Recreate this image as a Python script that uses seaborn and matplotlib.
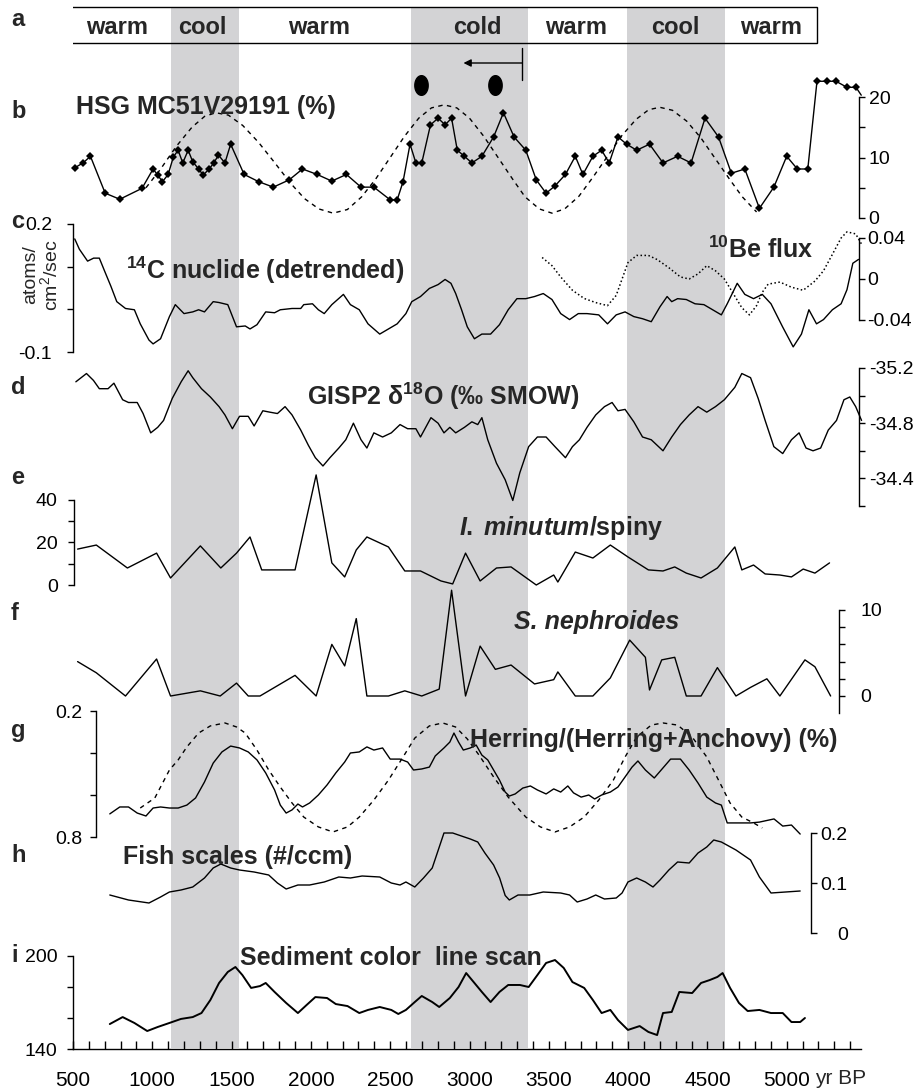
import numpy as np
import matplotlib
matplotlib.use("Agg")
import matplotlib.pyplot as plt
import seaborn as sns

sns.set_theme(style="white")
plt.rcParams["font.family"] = ["Liberation Sans", "DejaVu Sans"]
plt.rcParams["mathtext.fontset"] = "custom"
plt.rcParams["mathtext.rm"] = "Liberation Sans:bold"
plt.rcParams["mathtext.bf"] = "Liberation Sans:bold"
plt.rcParams["mathtext.it"] = "Liberation Sans:bold:italic"

# ---------------- data ----------------
# climate periods (panel a)
period_labels = ["warm", "cool", "warm", "cold", "warm", "cool", "warm"]
period_centers = [777, 1313, 2051, 3047, 3671, 4296, 4901]
cool_bands = [(1118, 1548), (2632, 3370), (3990, 4608)]

# b: HSG MC51V29191 (%)
hsg_years = [511, 563, 610, 703, 795, 935, 1005, 1034, 1064, 1100, 1133, 1163, 1192, 1226, 1255, 1292,
             1321, 1358, 1388, 1417, 1458, 1494, 1579, 1671, 1763, 1863, 1947, 2039, 2132, 2224, 2316,
             2397, 2500, 2544, 2581, 2625, 2662, 2699, 2754, 2802, 2846, 2887, 2923, 2968, 3015, 3078,
             3152, 3214, 3281, 3355, 3421, 3483, 3539, 3605, 3667, 3715, 3778, 3833, 3881, 3936, 3991,
             4054, 4135, 4220, 4312, 4397, 4485, 4570, 4651, 4736, 4828, 4919, 5000, 5067, 5133, 5191,
             5254, 5311, 5380, 5437]
hsg_pct = [8.3, 9.1, 10.2, 4.1, 3.1, 4.9, 8.1, 7.1, 6.0, 7.2, 10.1, 11.2, 9.1, 11.2, 9.3, 8.1,
           7.1, 8.1, 9.1, 10.4, 9.1, 12.2, 7.2, 6.0, 5.1, 6.3, 8.1, 7.2, 6.1, 7.2, 5.1,
           5.1, 3.0, 3.0, 6.0, 12.2, 9.1, 9.1, 15.4, 16.5, 15.4, 16.5, 11.2, 10.2, 9.1, 10.2,
           13.4, 17.4, 13.4, 11.2, 6.3, 4.1, 5.3, 7.2, 10.2, 7.2, 10.2, 11.2, 9.1, 13.4, 12.2,
           11.2, 12.2, 9.1, 10.2, 9.1, 16.5, 13.4, 7.4, 8.1, 1.6, 5.1, 10.2, 8.1, 8.1, 22.6,
           22.6, 22.6, 21.6, 21.6]
hsg_tail_years = [5437, 5470]
hsg_tail = [21.6, 20.3]
hsg_cycle_years = [960, 1050, 1150, 1250, 1330, 1400, 1480, 1570, 1670, 1770, 1870, 1960, 2050, 2140,
                   2230, 2320, 2410, 2500, 2590, 2680, 2760, 2840, 2920, 3000, 3090, 3180, 3270, 3350,
                   3440, 3520, 3600, 3690, 3780, 3870, 3960, 4050, 4130, 4200, 4280, 4370, 4460, 4550,
                   4640, 4720, 4810]
hsg_cycle = [5.0, 8.0, 11.8, 15.0, 16.8, 17.4, 17.0, 15.3, 12.5, 9.2, 5.8, 3.2, 1.5, 0.8,
             1.4, 3.5, 6.5, 10.0, 13.5, 16.5, 18.2, 18.7, 18.2, 16.5, 13.5, 10.0, 6.5, 3.5,
             1.5, 0.8, 1.5, 3.6, 6.8, 10.2, 13.6, 16.3, 17.9, 18.3, 17.8, 16.0, 13.2, 9.8,
             6.4, 3.5, 1.0]
event_years = [2694, 3160]

# c: 14C production (detrended) and 10Be flux
c14_years = [511, 540, 592, 630, 666, 700, 739, 776, 831, 887, 924, 979, 1005, 1052, 1108, 1145, 1200,
             1255, 1292, 1329, 1384, 1420, 1476, 1531, 1586, 1616, 1660, 1715, 1771, 1807, 1881, 1936,
             1955, 2010, 2047, 2084, 2132, 2205, 2249, 2305, 2360, 2434, 2489, 2544, 2599, 2636, 2691,
             2747, 2802, 2846, 2883, 2913, 2950, 2986, 3031, 3078, 3133, 3189, 3244, 3299, 3355, 3410,
             3465, 3520, 3575, 3631, 3686, 3741, 3815, 3870, 3925, 3981, 4036, 4091, 4146, 4201, 4246,
             4275, 4312, 4367, 4422, 4478, 4533, 4588, 4625, 4688, 4736, 4791, 4846, 4901, 4974, 5041,
             5093, 5140, 5188, 5232, 5288, 5343, 5380, 5417, 5453]
c14_flux = [0.165, 0.141, 0.113, 0.120, 0.120, 0.089, 0.054, 0.018, 0.002, -0.001, -0.034, -0.072,
            -0.081, -0.069, -0.017, 0.011, -0.010, -0.006, -0.001, -0.006, 0.018, 0.016, 0.011,
            -0.041, -0.039, -0.046, -0.036, -0.006, -0.008, -0.001, 0.002, 0.002, 0.011, 0.013,
            -0.001, -0.010, 0.011, 0.035, 0.011, -0.001, -0.034, -0.058, -0.046, -0.034, -0.010,
            0.018, 0.030, 0.049, 0.058, 0.070, 0.061, 0.037, -0.001, -0.041, -0.069, -0.058, -0.058,
            -0.036, -0.001, 0.025, 0.025, 0.030, 0.037, 0.023, -0.010, -0.024, -0.010, -0.010,
            -0.013, -0.034, -0.013, -0.006, -0.017, -0.022, -0.029, 0.006, 0.030, 0.018, 0.025,
            0.023, 0.013, 0.011, -0.001, -0.013, 0.013, 0.061, 0.035, 0.025, 0.035, 0.013, -0.041,
            -0.088, -0.058, -0.001, -0.034, -0.024, -0.001, 0.013, 0.046, 0.108, 0.117]
be10_years = [3458, 3520, 3575, 3649, 3723, 3796, 3870, 3925, 3962, 3999, 4054, 4128, 4183, 4257, 4330,
              4385, 4441, 4496, 4551, 4607, 4662, 4717, 4765, 4810, 4846, 4883, 4957, 5030, 5104, 5178,
              5232, 5288, 5343, 5380, 5435, 5472]
be10_flux = [0.021, 0.013, 0.002, -0.011, -0.019, -0.023, -0.026, -0.016, 0.000, 0.016, 0.023, 0.023,
             0.019, 0.011, 0.002, 0.000, 0.005, 0.013, 0.008, 0.000, -0.014, -0.028, -0.035, -0.026,
             -0.013, -0.005, -0.003, -0.008, -0.011, -0.002, 0.008, 0.024, 0.040, 0.046, 0.044, 0.034]

# d: GISP2 d18O
d18o_years = [518, 585, 629, 666, 721, 758, 813, 850, 905, 942, 990, 1034, 1071, 1126, 1182, 1226, 1255,
              1310, 1366, 1421, 1458, 1505, 1550, 1605, 1642, 1697, 1741, 1789, 1837, 1881, 1936, 1984,
              2028, 2076, 2120, 2176, 2220, 2268, 2316, 2353, 2397, 2452, 2507, 2562, 2610, 2662, 2691,
              2757, 2802, 2839, 2876, 2913, 2968, 3015, 3052, 3078, 3115, 3170, 3225, 3273, 3317, 3373,
              3428, 3483, 3539, 3605, 3649, 3693, 3741, 3796, 3851, 3899, 3936, 3981, 4036, 4091, 4146,
              4183, 4220, 4275, 4330, 4385, 4441, 4496, 4551, 4607, 4673, 4717, 4772, 4820, 4864, 4919,
              4975, 5030, 5078, 5122, 5166, 5214, 5262, 5314, 5361, 5398, 5435, 5472]
d18o = [-35.10, -35.16, -35.11, -35.05, -35.05, -35.09, -34.97, -34.95, -34.95, -34.87, -34.73, -34.77,
        -34.82, -34.98, -35.10, -35.18, -35.13, -35.05, -34.99, -34.92, -34.86, -34.76, -34.85, -34.85,
        -34.78, -34.89, -34.88, -34.87, -34.92, -34.86, -34.75, -34.64, -34.55, -34.49, -34.55, -34.62,
        -34.68, -34.80, -34.68, -34.62, -34.73, -34.70, -34.73, -34.79, -34.76, -34.76, -34.70, -34.84,
        -34.80, -34.73, -34.77, -34.73, -34.77, -34.81, -34.79, -34.84, -34.68, -34.51, -34.39, -34.24,
        -34.44, -34.63, -34.70, -34.70, -34.63, -34.55, -34.63, -34.68, -34.77, -34.86, -34.92, -34.95,
        -34.89, -34.90, -34.81, -34.70, -34.68, -34.64, -34.60, -34.70, -34.79, -34.86, -34.92, -34.88,
        -34.92, -34.97, -35.06, -35.16, -35.13, -34.98, -34.82, -34.63, -34.58, -34.68, -34.73, -34.62,
        -34.60, -34.62, -34.75, -34.82, -34.97, -34.99, -34.92, -34.82]

# e: I. minutum / spiny
imin_years = [529, 647, 843, 1027, 1115, 1303, 1432, 1531, 1616, 1690, 1900, 2033, 2132, 2213, 2286, 2353,
              2489, 2592, 2691, 2820, 2894, 2975, 3067, 3170, 3262, 3421, 3531, 3557, 3667, 3778, 3888,
              3999, 4128, 4220, 4294, 4367, 4460, 4563, 4673, 4717, 4791, 4864, 4957, 5030, 5104, 5178,
              5270]
imin_ratio = [16.9, 18.8, 8.0, 15.0, 3.3, 18.4, 8.0, 15.0, 22.6, 7.1, 7.1, 51.8, 10.4, 3.8, 16.5, 22.6,
              17.9, 6.6, 6.6, 1.9, 0.5, 15.0, 1.9, 8.0, 8.5, 0.0, 4.7, 1.4, 15.5, 12.7, 18.8,
              13.2, 7.1, 6.6, 8.5, 5.6, 3.3, 8.0, 17.9, 7.1, 9.4, 5.2, 4.7, 3.8, 7.5, 5.6, 10.4]

# f: S. nephroides
snep_years = [529, 647, 831, 1027, 1115, 1303, 1428, 1531, 1605, 1679, 1900, 2033, 2132, 2213, 2286,
              2353, 2489, 2592, 2699, 2809, 2887, 2975, 3067, 3163, 3262, 3410, 3531, 3557, 3667, 3778,
              3888, 4010, 4109, 4135, 4212, 4294, 4367, 4460, 4563, 4680, 4772, 4875, 4957, 5115, 5178,
              5277]
snep = [4.0, 2.7, 0.0, 4.3, 0.0, 0.6, 0.0, 1.5, 0.0, 0.0, 2.4, 0.0, 6.0, 3.5, 9.0,
        0.0, 0.0, 0.6, 0.0, 0.8, 12.3, 0.0, 5.8, 3.1, 3.6, 1.4, 1.9, 2.8, 0.0, 0.0,
        2.1, 6.5, 4.5, 0.7, 4.2, 4.5, 0.0, 0.0, 3.3, 0.0, 1.0, 2.0, 0.0, 4.2, 3.4, 0.0]

# g: Herring/(Herring+Anchovy)
herring_years = [732, 795, 850, 905, 960, 1005, 1052, 1108, 1163, 1218, 1273, 1329, 1384, 1439, 1494,
                 1550, 1605, 1660, 1715, 1771, 1807, 1844, 1881, 1918, 1947, 1992, 2047, 2102, 2157,
                 2213, 2249, 2305, 2353, 2397, 2452, 2500, 2562, 2610, 2647, 2699, 2747, 2784, 2839,
                 2876, 2902, 2931, 2961, 3005, 3042, 3078, 3115, 3152, 3189, 3225, 3251, 3288, 3336,
                 3384, 3428, 3483, 3531, 3575, 3620, 3656, 3704, 3752, 3789, 3833, 3888, 3936, 3981,
                 4025, 4062, 4109, 4165, 4220, 4268, 4330, 4385, 4441, 4496, 4551, 4588, 4625, 4680,
                 4772, 4828, 4920, 4975, 5030, 5085]
herring = [0.690, 0.657, 0.657, 0.686, 0.700, 0.662, 0.657, 0.662, 0.662, 0.648, 0.614, 0.538, 0.448,
           0.395, 0.367, 0.376, 0.395, 0.433, 0.495, 0.576, 0.648, 0.686, 0.671, 0.643, 0.657, 0.638,
           0.600, 0.552, 0.495, 0.443, 0.400, 0.395, 0.371, 0.386, 0.376, 0.429, 0.429, 0.443, 0.481,
           0.476, 0.467, 0.414, 0.376, 0.348, 0.305, 0.348, 0.386, 0.376, 0.362, 0.410, 0.433, 0.481,
           0.529, 0.586, 0.605, 0.595, 0.567, 0.557, 0.576, 0.595, 0.571, 0.586, 0.557, 0.590, 0.610,
           0.600, 0.619, 0.600, 0.586, 0.562, 0.514, 0.467, 0.438, 0.481, 0.519, 0.471, 0.429, 0.429,
           0.481, 0.543, 0.610, 0.638, 0.648, 0.733, 0.733, 0.733, 0.729, 0.714, 0.748, 0.743, 0.786]
herring_cycle_years = [924, 1016, 1108, 1163, 1218, 1292, 1366, 1458, 1531, 1586, 1660, 1734, 1807,
                       1881, 1955, 2047, 2139, 2231, 2305, 2397, 2489, 2581, 2655, 2747, 2831, 2912,
                       2986, 3060, 3152, 3244, 3355, 3447, 3539, 3631, 3723, 3815, 3907, 3981, 4054,
                       4146, 4220, 4312, 4404, 4496, 4570, 4643, 4717, 4791, 4846]
herring_cycle = [0.662, 0.614, 0.481, 0.433, 0.371, 0.305, 0.271, 0.257, 0.276, 0.305, 0.386, 0.481,
                 0.562, 0.638, 0.705, 0.752, 0.776, 0.752, 0.705, 0.624, 0.529, 0.419, 0.329, 0.271,
                 0.257, 0.276, 0.333, 0.410, 0.514, 0.610, 0.705, 0.752, 0.776, 0.752, 0.705, 0.624,
                 0.529, 0.419, 0.324, 0.267, 0.257, 0.267, 0.324, 0.419, 0.529, 0.638, 0.705, 0.733,
                 0.757]

# h: fish scales (#/ccm)
scales_years = [732, 850, 979, 1052, 1108, 1181, 1255, 1329, 1384, 1432, 1494, 1550, 1642, 1734, 1789,
                1844, 1918, 1992, 2084, 2176, 2249, 2323, 2434, 2507, 2562, 2599, 2655, 2710, 2765, 2839,
                2894, 2949, 3005, 3052, 3097, 3152, 3190, 3225, 3251, 3306, 3380, 3465, 3575, 3631, 3679,
                3741, 3796, 3851, 3925, 3962, 3999, 4054, 4109, 4157, 4201, 4257, 4312, 4385, 4441, 4496,
                4540, 4588, 4680, 4772, 4828, 4901, 4993, 5085]
scales = [0.076, 0.066, 0.060, 0.072, 0.082, 0.086, 0.092, 0.110, 0.130, 0.138, 0.130, 0.126, 0.122,
          0.116, 0.100, 0.088, 0.096, 0.096, 0.102, 0.112, 0.110, 0.114, 0.112, 0.100, 0.096, 0.102,
          0.092, 0.110, 0.130, 0.200, 0.200, 0.194, 0.188, 0.182, 0.160, 0.136, 0.110, 0.075, 0.066,
          0.076, 0.076, 0.082, 0.080, 0.076, 0.062, 0.068, 0.076, 0.068, 0.070, 0.080, 0.102, 0.110,
          0.102, 0.092, 0.106, 0.126, 0.142, 0.140, 0.160, 0.172, 0.186, 0.182, 0.166, 0.146, 0.112,
          0.080, 0.082, 0.084]

# i: sediment colour line scan
color_years = [732, 813, 887, 968, 1034, 1108, 1181, 1255, 1310, 1366, 1421, 1476, 1524, 1568, 1623, 1679,
               1715, 1771, 1844, 1918, 1973, 2028, 2102, 2157, 2231, 2305, 2360, 2434, 2507, 2551, 2599,
               2655, 2699, 2765, 2809, 2876, 2931, 2979, 3031, 3078, 3133, 3189, 3244, 3318, 3373, 3428,
               3483, 3539, 3594, 3649, 3723, 3778, 3833, 3888, 3936, 3999, 4073, 4128, 4183, 4220, 4275,
               4323, 4404, 4460, 4515, 4563, 4596, 4643, 4699, 4754, 4828, 4901, 4975, 5030, 5085, 5115]
color_scan = [156.1, 160.6, 156.8, 151.6, 154.2, 156.8, 159.4, 160.6, 163.2, 171.6, 182.6, 189.7, 192.9,
              187.7, 179.4, 180.6, 182.6, 176.8, 169.7, 163.2, 168.4, 173.5, 172.9, 169.0, 167.7, 163.2,
              165.2, 167.1, 165.2, 162.6, 165.2, 170.3, 174.2, 170.3, 167.1, 172.9, 180.0, 189.0, 182.6,
              176.8, 170.3, 176.8, 181.3, 181.3, 180.0, 187.7, 195.5, 197.4, 192.3, 183.2, 179.4, 171.6,
              163.2, 165.2, 158.7, 152.3, 154.8, 151.0, 149.0, 163.2, 163.9, 176.8, 176.1, 182.6, 184.5,
              186.5, 189.0, 179.4, 169.7, 164.5, 165.2, 163.2, 163.2, 157.4, 157.4, 160.0]

# ---------------- layout helpers ----------------
W, H = 916, 1089
X0, X1 = 73, 866          # pixel span of 500 .. 5500 yr BP
XMIN, XMAX = 500, 5500
SHADE = "#d3d3d5"
TICK_FS = 14
LABEL_FS = 18

fig = plt.figure(figsize=(W / 100, H / 100), dpi=100)
fig.patch.set_facecolor("white")


def ftext(px, py, s, **kw):
    fig.text(px / W, 1 - py / H, s, **kw)


def add_panel(py_top, v_top, py_bot, v_bot):
    ax = fig.add_axes([X0 / W, 1 - py_bot / H, (X1 - X0) / W, (py_bot - py_top) / H])
    ax.patch.set_alpha(0)
    ax.grid(False)
    return ax, (v_bot, v_top)


def finish(ax, ylim):
    ax.set_xlim(XMIN, XMAX)
    ax.set_ylim(*ylim)
    for s in ax.spines.values():
        s.set_visible(False)
    ax.set_xticks([])
    ax.set_yticks([])
    ax.set_xlabel("")
    ax.set_ylabel("")


def yaxis(ax, side, xpos, bounds, ticks, labels, pad, ha=None):
    sp = ax.spines[side]
    sp.set_visible(True)
    sp.set_color("black")
    sp.set_linewidth(1.0)
    sp.set_position(("data", xpos))
    sp.set_bounds(*bounds)
    if side == "right":
        ax.yaxis.tick_right()
    else:
        ax.yaxis.tick_left()
    ax.set_yticks(ticks)
    ax.set_yticklabels(labels)
    ax.tick_params(axis="y", which="both", direction="out", length=4.5, width=1.0,
                   colors="black", labelsize=TICK_FS, pad=pad)
    if ha is not None:
        for t in ax.get_yticklabels():
            t.set_horizontalalignment(ha)


def line(ax, x, y, **kw):
    kw.setdefault("color", "black")
    kw.setdefault("linewidth", 1.0)
    sns.lineplot(x=np.asarray(x, float), y=np.asarray(y, float), ax=ax, estimator=None,
                 sort=False, legend=False, clip_on=False, **kw)


# ---------------- background: shading, period box, markers ----------------
bg = fig.add_axes([X0 / W, 0, (X1 - X0) / W, 1])
bg.set_xlim(XMIN, XMAX)
bg.set_ylim(H, 0)
bg.axis("off")
for a0, a1 in cool_bands:
    bg.fill_between([a0, a1], 7, 1048, color=SHADE, linewidth=0, zorder=0)
bg.add_patch(plt.Rectangle((462, 7), 5191 - 462, 36, fill=False, edgecolor="black",
                           linewidth=1.0, zorder=2))
for lab, cx in zip(period_labels, period_centers):
    bg.text(cx, 27, lab, ha="center", va="center", fontsize=17, fontweight="bold", zorder=3)

# oval event markers and arrow above panel b
t = np.linspace(0, 2 * np.pi, 40)
oval = np.column_stack([0.68 * np.cos(t), np.sin(t)])
bg.scatter(event_years, [85, 85], marker=oval, s=200, color="black", zorder=3)
bg.plot([3331, 3331], [48, 80], color="black", linewidth=1.0, zorder=3)
bg.annotate("", xy=(2962, 63), xytext=(3331, 63),
            arrowprops=dict(arrowstyle="-|>", color="black", lw=1.0, mutation_scale=11,
                            shrinkA=0, shrinkB=0), zorder=3)

# ---------------- b ----------------
ax_b, lim_b = add_panel(97, 20, 218, 0)
line(ax_b, hsg_cycle_years, hsg_cycle, linestyle=(0, (3.2, 3.2)), linewidth=1.0)
line(ax_b, hsg_tail_years, hsg_tail)
line(ax_b, hsg_years, hsg_pct, marker="D", markersize=4, markeredgewidth=0)
finish(ax_b, lim_b)
yaxis(ax_b, "right", 5456, (0, 20), [0, 5, 10, 15, 20], ["0", "", "10", "", "20"], pad=2.5)

# ---------------- c ----------------
ax_c, lim_c = add_panel(224, 0.2, 352, -0.1)
line(ax_c, c14_years, c14_flux)
finish(ax_c, lim_c)
yaxis(ax_c, "left", 500, (-0.1, 0.2), [-0.1, 0, 0.1, 0.2], ["-0.1", "", "", "0.2"], pad=10.5)

ax_c2, lim_c2 = add_panel(238, 0.04, 320, -0.04)
line(ax_c2, be10_years, be10_flux, linestyle=(0, (1.0, 1.6)), linewidth=1.1)
finish(ax_c2, lim_c2)
yaxis(ax_c2, "right", 5456, (-0.04, 0.04), [-0.04, 0, 0.04], ["-0.04", "0", "0.04"], pad=1.5)

# ---------------- d ----------------
ax_d, lim_d = add_panel(368, -35.2, 506, -34.2)
line(ax_d, d18o_years, d18o)
finish(ax_d, lim_d)
yaxis(ax_d, "right", 5456, (-35.2, -34.2), [-35.2, -35.0, -34.8, -34.6, -34.4, -34.2],
      ["-35.2", "", "-34.8", "", "-34.4", ""], pad=2.5)

# ---------------- e ----------------
ax_e, lim_e = add_panel(500, 40, 585, 0)
line(ax_e, imin_years, imin_ratio)
finish(ax_e, lim_e)
yaxis(ax_e, "left", 505, (0, 40), [0, 10, 20, 30, 40], ["0", "", "20", "", "40"], pad=7)

# ---------------- f ----------------
ax_f, lim_f = add_panel(610, 10, 696, 0)
line(ax_f, snep_years, snep)
finish(ax_f, lim_f)
yaxis(ax_f, "right", 5330, (-2, 10), [0, 2, 4, 6, 8, 10], ["0", "", "", "", "", "10"], pad=11)

# ---------------- g ----------------
ax_g, lim_g = add_panel(711, 0.2, 837, 0.8)
line(ax_g, herring_cycle_years, herring_cycle, linestyle=(0, (3.2, 3.2)), linewidth=1.0)
line(ax_g, herring_years, herring)
finish(ax_g, lim_g)
yaxis(ax_g, "left", 645, (0.2, 0.8), [0.2, 0.4, 0.6, 0.8], ["0.2", "", "", "0.8"], pad=5.5)

# ---------------- h ----------------
ax_h, lim_h = add_panel(833, 0.2, 933, 0.0)
line(ax_h, scales_years, scales)
finish(ax_h, lim_h)
yaxis(ax_h, "right", 5153, (0, 0.2), [0, 0.1, 0.2], ["0", "0.1", "0.2"], pad=22, ha="right")

# ---------------- i ----------------
ax_i, lim_i = add_panel(956, 200, 1049, 140)
line(ax_i, color_years, color_scan, linewidth=1.4)
finish(ax_i, lim_i)
yaxis(ax_i, "left", 500, (140, 200), [140, 160, 180, 200], ["140", "", "", "200"], pad=6.5)
sp = ax_i.spines["bottom"]
sp.set_visible(True)
sp.set_color("black")
sp.set_linewidth(1.0)
sp.set_bounds(500, 5470)
ax_i.xaxis.tick_bottom()
ax_i.set_xticks(list(range(500, 5001, 500)))
ax_i.set_xticklabels([str(v) for v in range(500, 5001, 500)])
ax_i.set_xticks(list(range(600, 5500, 100)), minor=True)
ax_i.tick_params(axis="x", which="both", direction="in", length=6, width=1.0, colors="black",
                 labelsize=15, pad=16)
ftext(815, 1078, "yr BP", fontsize=15, ha="left", va="center")

# ---------------- panel letters and titles ----------------
for letter, py in zip("abcdefghi", [20, 112, 221, 388, 478, 614, 731, 855, 956]):
    ftext(11, py, letter, fontsize=17, fontweight="bold", ha="left", va="center")

ftext(76, 107, "HSG MC51V29191 (%)", fontsize=LABEL_FS, fontweight="bold", va="center")
ftext(126, 270, r"$^{14}$C nuclide (detrended)", fontsize=LABEL_FS, fontweight="bold", va="center")
ftext(708, 250, r"$^{10}$Be flux", fontsize=LABEL_FS, fontweight="bold", va="center")
ftext(307, 396, "GISP2 \u03b4$^{18}$O (\u2030 SMOW)", fontsize=LABEL_FS, fontweight="bold",
      va="center")
ftext(459, 528, r"$\mathit{I.}\;\mathit{minutum}$/spiny", fontsize=LABEL_FS, fontweight="bold",
      va="center")
ftext(514, 622, "S. nephroides", fontsize=LABEL_FS, fontweight="bold", style="italic", va="center")
ftext(470, 740, "Herring/(Herring+Anchovy) (%)", fontsize=LABEL_FS, fontweight="bold", va="center")
ftext(123, 857, "Fish scales (#/ccm)", fontsize=LABEL_FS, fontweight="bold", va="center")
ftext(240, 958, "Sediment color  line scan", fontsize=LABEL_FS, fontweight="bold", va="center")
ftext(42, 275, "atoms/\ncm$^{\\mathregular{2}}$/sec", fontsize=14, rotation=90, ha="center",
      va="center", linespacing=1.0)

fig.savefig("out.png", dpi=100, facecolor="white")
